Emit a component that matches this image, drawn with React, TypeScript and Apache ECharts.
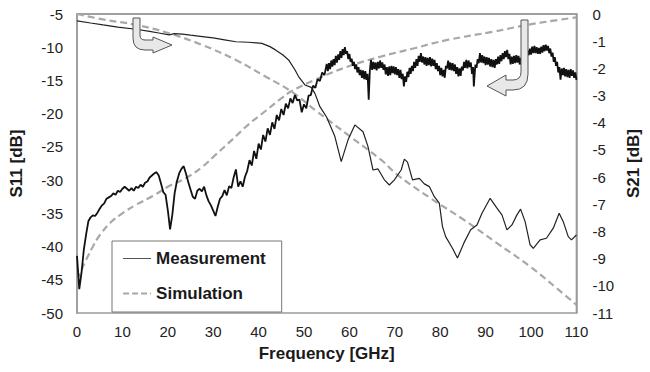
import React, { useEffect, useRef } from "react";
import * as echarts from "echarts";

// Frequency axis ticks (GHz)
const freqTicks = [0, 10, 20, 30, 40, 50, 60, 70, 80, 90, 100, 110];

// S11 measurement [GHz, dB] (left axis)
const s11Measured: [number, number][] = [
  [0, -41.4], [0.5, -46.4], [1, -43.9], [1.5, -40.5], [2, -38.2], [2.5, -36.2], [3, -35.6], [3.5, -35.3],
  [4, -35.4], [4.5, -34.9], [5, -34.3], [5.5, -33.8], [6, -33.5], [6.5, -32.8], [7, -32.6], [7.5, -32.4],
  [8, -32.0], [8.5, -32.2], [9, -31.6], [9.5, -31.8], [10, -31.3], [10.5, -31.0], [11, -31.3], [11.5, -31.6],
  [12, -31.2], [12.5, -31.6], [13, -31.0], [13.5, -31.2], [14, -30.7], [14.5, -31.0], [15, -30.4], [15.5, -30.2],
  [16, -29.6], [16.5, -29.3], [17, -29.0], [17.5, -28.8], [18, -29.3], [18.5, -30.5], [19, -31.8], [19.5, -32.2],
  [20, -34.5], [20.5, -37.4], [21, -35.2], [21.5, -32.0], [22, -30.2], [22.5, -29.0], [23, -28.3], [23.5, -27.9],
  [24, -29.0], [24.5, -30.3], [25, -31.4], [25.5, -32.5], [26, -32.8], [26.5, -31.6], [27, -31.3], [27.5, -31.7],
  [28, -31.0], [28.5, -32.3], [29, -33.2], [29.5, -33.8], [30, -34.6], [30.5, -35.4], [31, -34.0], [31.5, -32.8],
  [32, -32.4], [32.5, -31.5], [33, -32.3], [33.5, -30.9], [34, -31.2], [34.5, -29.6], [35, -28.4], [35.5, -31.0],
  [36, -30.2], [36.5, -31.0], [37, -29.5], [37.5, -28.6], [38, -27.0], [38.5, -27.8], [39, -25.6], [39.5, -26.8],
  [40, -24.5], [40.5, -25.4], [41, -23.2], [41.5, -24.2], [42, -22.2], [42.5, -23.2], [43, -21.3], [43.5, -22.3],
  [44, -20.2], [44.5, -21.0], [45, -19.3], [45.5, -20.2], [46, -18.5], [46.5, -19.2], [47, -17.7], [47.5, -18.4],
  [48, -17.2], [48.5, -18.0], [49, -17.9], [49.5, -19.8], [50, -18.6], [50.5, -19.2], [51, -17.3], [51.5, -17.2],
  [52, -15.8], [52.5, -16.1], [53, -14.8], [53.5, -15.1], [54, -13.8], [54.5, -14.2],
  [55, -12.5], [55.25, -13.6], [55.5, -12.4], [55.75, -13.3], [56, -12.0], [56.25, -12.9], [56.5, -11.8], [56.75, -12.7],
  [57, -11.3], [57.25, -12.3], [57.5, -11.1], [57.75, -11.9], [58, -10.6], [58.25, -11.6], [58.5, -10.3], [58.75, -11.2],
  [59, -10.0], [59.25, -11.0], [59.5, -10.6], [59.75, -11.8], [60, -11.0], [60.25, -12.2], [60.5, -11.7], [60.75, -12.8],
  [61, -12.2], [61.25, -13.3], [61.5, -12.6], [61.75, -13.8], [62, -13.0], [62.25, -14.2], [62.5, -13.4], [62.75, -14.6],
  [63, -13.5], [63.25, -14.8], [63.5, -13.6], [63.75, -14.9], [64, -14.0], [64.25, -17.9], [64.5, -13.5], [64.75, -11.9],
  [65, -13.4], [65.25, -12.2], [65.5, -13.3], [65.75, -12.3], [66, -13.5], [66.25, -12.2], [66.5, -13.2], [66.75, -12.0],
  [67, -13.1], [67.25, -12.3], [67.5, -13.4], [67.75, -12.6], [68, -14.1], [68.25, -13.0], [68.5, -14.3], [68.75, -12.9],
  [69, -14.2], [69.25, -12.8], [69.5, -13.9], [69.75, -12.9], [70, -14.1], [70.25, -13.0], [70.5, -14.2], [70.75, -13.3],
  [71, -14.6], [71.25, -13.4], [71.5, -14.8], [71.75, -14.0], [72, -15.9], [72.25, -14.4], [72.5, -15.2], [72.75, -13.7],
  [73, -14.5], [73.25, -13.1], [73.5, -14.0], [73.75, -12.8], [74, -13.6], [74.25, -12.2], [74.5, -13.1], [74.75, -11.8],
  [75, -12.8], [75.25, -11.3], [75.5, -12.2], [75.75, -10.9], [76, -12.3], [76.25, -11.4], [76.5, -12.6], [76.75, -11.5],
  [77, -12.8], [77.25, -11.6], [77.5, -12.7], [77.75, -11.5], [78, -12.9], [78.25, -11.7], [78.5, -12.8], [78.75, -11.9],
  [79, -13.3], [79.25, -12.4], [79.5, -13.6], [79.75, -12.8], [80, -14.2], [80.25, -13.1], [80.5, -14.4], [80.75, -13.4],
  [81, -14.6], [81.25, -12.8], [81.5, -13.2], [81.75, -12.0], [82, -13.4], [82.25, -12.3], [82.5, -13.5], [82.75, -12.4],
  [83, -13.6], [83.25, -12.6], [83.5, -14.0], [83.75, -13.0], [84, -14.4], [84.25, -13.2], [84.5, -14.3], [84.75, -12.9],
  [85, -13.5], [85.25, -12.2], [85.5, -13.1], [85.75, -11.9], [86, -13.2], [86.25, -12.0], [86.5, -13.0], [86.75, -12.3],
  [87, -14.0], [87.25, -13.0], [87.4, -15.9], [87.75, -12.6], [88, -13.1], [88.25, -11.8], [88.5, -12.4], [88.75, -10.9],
  [89, -12.3], [89.25, -11.2], [89.5, -12.4], [89.75, -11.4], [90, -12.7], [90.25, -11.5], [90.5, -12.6], [90.75, -11.6],
  [91, -12.9], [91.25, -11.8], [91.5, -13.0], [91.75, -11.9], [92, -13.1], [92.25, -11.8], [92.5, -12.6], [92.75, -11.4],
  [93, -12.5], [93.25, -11.2], [93.5, -12.1], [93.75, -10.9], [94, -11.8], [94.25, -10.6], [94.5, -11.5], [94.75, -10.4],
  [95, -11.8], [95.25, -11.0], [95.5, -12.6], [95.75, -11.4], [96, -12.5], [96.25, -11.3], [96.5, -12.4], [96.75, -11.2],
  [97, -12.3], [97.25, -11.3], [97.5, -12.6], [97.75, -11.6], [98, -12.8], [98.25, -11.8], [98.5, -12.9], [98.75, -11.4],
  [99, -11.6], [99.25, -10.5], [99.5, -11.2], [99.75, -10.2], [100, -11.1], [100.25, -9.9], [100.5, -10.9], [100.75, -9.8],
  [101, -10.9], [101.25, -10.0], [101.5, -11.0], [101.75, -10.1], [102, -11.0], [102.25, -9.9], [102.5, -10.8], [102.75, -9.7],
  [103, -10.6], [103.25, -9.6], [103.5, -10.5], [103.75, -9.8], [104, -10.9], [104.25, -10.2], [104.5, -11.4], [104.75, -10.8],
  [105, -12.2], [105.25, -11.5], [105.5, -12.8], [105.75, -12.2], [106, -13.8], [106.25, -13.0], [106.5, -14.9], [106.75, -13.2],
  [107, -14.2], [107.25, -13.1], [107.5, -14.4], [107.75, -13.3], [108, -14.5], [108.25, -13.4], [108.5, -14.6], [108.75, -13.3],
  [109, -14.3], [109.25, -13.5], [109.5, -14.6], [109.75, -13.8], [110, -14.9],
];

// S21 measurement [GHz, dB] (right axis)
const s21Measured: [number, number][] = [
  [0, -0.25], [3, -0.33], [5.75, -0.4], [9, -0.48], [13, -0.56], [16, -0.64], [18, -0.7], [20.3, -0.77],
  [21.5, -0.72], [23.2, -0.74], [25, -0.78], [27.6, -0.83], [30, -0.88], [32.5, -0.95], [35, -1.02], [37.8, -1.04],
  [40.7, -1.08], [42.5, -1.2], [43.7, -1.32], [45.3, -1.5], [46.6, -1.69], [48, -2.05], [48.8, -2.3], [50.2, -2.61],
  [51.6, -2.7], [52.4, -2.92], [53.5, -3.41], [55, -3.8], [56.8, -4.51], [58.2, -5.43], [59.7, -4.63], [61.2, -4.08],
  [63, -4.33], [64.1, -4.88], [65.2, -5.74], [66.3, -5.7], [67.7, -6.1], [68.8, -6.29], [69.9, -6.1], [71.4, -5.74],
  [72.1, -5.34], [72.8, -5.45], [73.9, -6.1], [75.4, -6.05], [76.5, -6.25], [77.6, -6.35], [78.7, -6.72], [79.8, -6.96],
  [80.5, -7.82], [81.2, -8.19], [82.7, -8.62], [83.8, -8.98], [85.2, -8.43], [86.7, -7.94], [88.1, -7.76], [89.2, -7.33],
  [91, -6.78], [92.5, -7.14], [93.6, -7.39], [94.7, -7.94], [95.8, -7.76], [96.9, -7.39], [97.7, -7.18], [98.7, -7.64],
  [99.8, -8.49], [100.5, -8.62], [102, -8.31], [103.4, -8.25], [104.9, -7.88], [106.2, -7.33], [107.1, -7.64], [108.2, -8.19],
  [108.9, -8.31], [110, -8.13],
];

// S11 simulation [GHz, dB] (left axis)
const s11Simulated: [number, number][] = [
  [0, -45], [1, -43.5], [2, -42], [3.5, -40], [5, -38.3], [7.5, -36.3], [10, -35], [13, -33.7],
  [16.7, -32.4], [20.3, -30.9], [24, -29.7], [27.6, -28], [30.5, -26.2], [34.2, -23.9], [37.8, -21.6], [41.5, -19.6],
  [45, -17.7], [47.3, -16.6], [52.4, -14.9], [59.7, -12.9], [67, -11.4], [74.3, -10.15], [81.6, -8.9], [91.8, -7.65],
  [99.1, -6.65], [105, -6.0], [110, -5.5],
];

// S21 simulation [GHz, dB] (right axis)
const s21Simulated: [number, number][] = [
  [0, 0], [5.75, -0.2], [13, -0.4], [20.3, -0.71], [27.6, -1.14], [35, -1.69], [41.5, -2.3], [47.3, -2.86],
  [52.4, -3.53], [59.7, -4.45], [67, -5.37], [70.6, -5.92], [77.9, -6.78], [85.2, -7.57], [92.5, -8.43], [99.8, -9.29],
  [105.6, -10.08], [110, -10.7],
];

const legendNames = ["Measurement", "Simulation"];

const ARROW_RIGHT =
  "M0,0 L7,0 L7,17 Q7,22 12,22 L20,22 L20,19 L39,27 L20,35 L20,32 L12,32 Q0,32 0,20 Z";
const ARROW_LEFT =
  "M34,0 L41,0 L41,54 Q41,70 26,70 L19,70 L19,76 L0,66 L19,55 L19,60 L26,60 Q34,60 34,52 Z";

let registered = false;
function registerShapes() {
  if (registered) return;
  echarts.graphic.registerShape("arrowRight", echarts.graphic.extendPath(ARROW_RIGHT, {}) as any);
  echarts.graphic.registerShape("arrowLeft", echarts.graphic.extendPath(ARROW_LEFT, {}) as any);
  registered = true;
}

const FONT = "Liberation Sans, Arial, sans-serif";
const SIM_COLOR = "#a8a8a8";

export default function App() {
  const ref = useRef<HTMLDivElement>(null);
  useEffect(() => {
    if (!ref.current) return;
    registerShapes();
    const chart = echarts.init(ref.current, undefined, { renderer: "svg" });
    const dashed = { color: SIM_COLOR, width: 2.2, type: [7, 4] as any };
    chart.setOption({
      animation: false,
      backgroundColor: "#fff",
      textStyle: { fontFamily: FONT },
      grid: {
        left: 77, right: 70, top: 14, bottom: 59,
        show: true, borderColor: "#9a9a9a", borderWidth: 1.5,
      },
      legend: {
        orient: "vertical",
        left: 112, top: 241,
        data: [
          { name: legendNames[0], itemStyle: { opacity: 0 }, lineStyle: { color: "#555", width: 1, type: "solid" } },
          { name: legendNames[1], itemStyle: { opacity: 0 }, lineStyle: { color: SIM_COLOR, width: 2.2, type: [6, 3] } },
        ],
        itemWidth: 28, itemHeight: 14, itemGap: 18,
        padding: [9, 16, 10, 10],
        borderColor: "#777", borderWidth: 1,
        backgroundColor: "#fff",
        textStyle: { fontFamily: FONT, fontSize: 17, fontWeight: "bold", color: "#1a1a1a" },
      },
      xAxis: {
        type: "value", min: 0, max: 110, interval: 10,
        name: "Frequency [GHz]", nameLocation: "middle", nameGap: 32,
        nameTextStyle: { fontFamily: FONT, fontSize: 17, fontWeight: "bold", color: "#1a1a1a" },
        axisLine: { lineStyle: { color: "#9a9a9a", width: 1.5 } },
        axisTick: { show: false },
        splitLine: { show: false },
        axisLabel: {
          fontFamily: FONT, fontSize: 15, color: "#222", margin: 11,
          formatter: (v: number) => (freqTicks.includes(v) ? String(v) : ""),
        },
      },
      yAxis: [
        {
          type: "value", min: -50, max: -5, interval: 5,
          name: "S11 [dB]", nameLocation: "middle", nameGap: 52, nameRotate: 90,
          nameTextStyle: { fontFamily: FONT, fontSize: 17, fontWeight: "bold", color: "#1a1a1a" },
          axisLine: { show: true, lineStyle: { color: "#9a9a9a", width: 1.5 } },
          axisTick: { show: false },
          splitLine: { show: false },
          axisLabel: { fontFamily: FONT, fontSize: 15, color: "#222", margin: 14 },
        },
        {
          type: "value", min: -11, max: 0, interval: 1, position: "right",
          name: "S21 [dB]", nameLocation: "middle", nameGap: 44, nameRotate: 90,
          nameTextStyle: { fontFamily: FONT, fontSize: 17, fontWeight: "bold", color: "#1a1a1a" },
          axisLine: { show: true, lineStyle: { color: "#9a9a9a", width: 1.5 } },
          axisTick: { show: false },
          splitLine: { show: false },
          axisLabel: { fontFamily: FONT, fontSize: 15, color: "#222", margin: 16 },
        },
      ],
      series: [
        {
          name: legendNames[1], type: "line", yAxisIndex: 0, data: s11Simulated,
          smooth: 0.4, symbol: "none", lineStyle: dashed, itemStyle: { color: SIM_COLOR }, z: 2,
        },
        {
          name: legendNames[1], type: "line", yAxisIndex: 1, data: s21Simulated,
          smooth: 0.4, symbol: "none", lineStyle: dashed, itemStyle: { color: SIM_COLOR }, z: 2,
        },
        {
          name: legendNames[0], type: "line", yAxisIndex: 0, data: s11Measured,
          symbol: "none", lineStyle: { color: "#111", width: 1.8 }, itemStyle: { color: "#111" }, z: 3,
        },
        {
          name: legendNames[0], type: "line", yAxisIndex: 1, data: s21Measured,
          symbol: "none", lineStyle: { color: "#222", width: 1.2 }, itemStyle: { color: "#222" }, z: 3,
        },
      ],
      graphic: [
        {
          type: "arrowRight", x: 133, y: 18, z: 100,
          style: { fill: "#e8e8e8", stroke: "#555", lineWidth: 1 },
        },
        {
          type: "arrowLeft", x: 487, y: 20, z: 100,
          style: { fill: "#e8e8e8", stroke: "#555", lineWidth: 1 },
        },
      ],
    });
    return () => chart.dispose();
  }, []);
  return (
    <div
      ref={ref}
      style={{ position: "fixed", left: 0, top: 0, width: 650, height: 372 }}
    />
  );
}
